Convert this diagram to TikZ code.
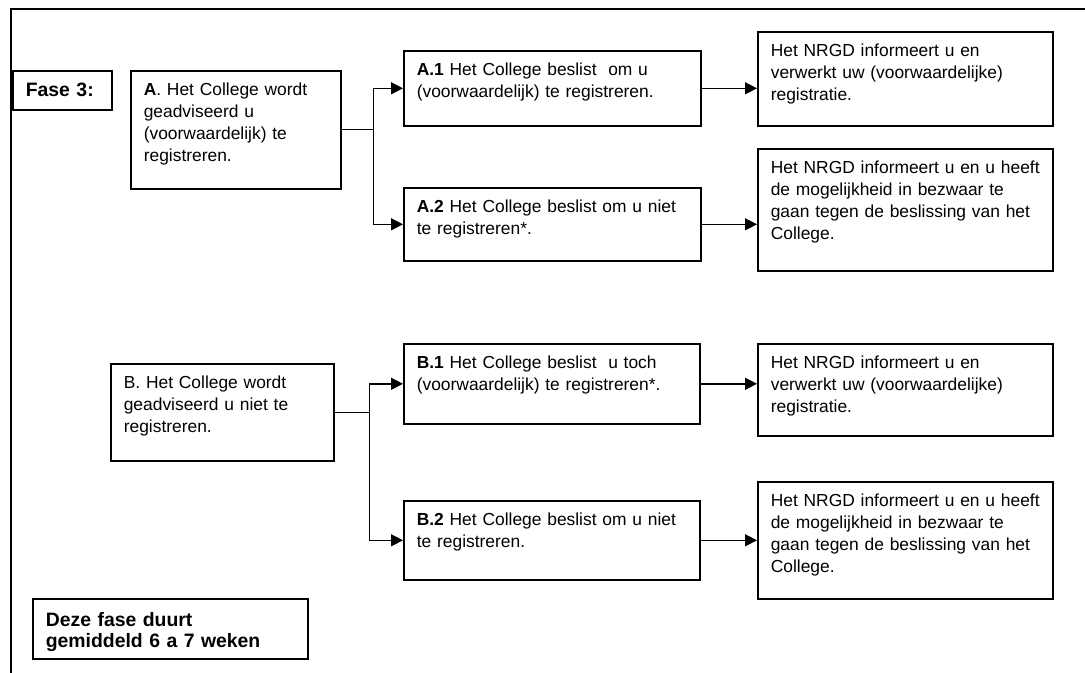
\documentclass[tikz,border=0pt]{standalone}
\usepackage{fontspec}
\setmainfont{Liberation Sans}
\usetikzlibrary{arrows.meta, positioning, calc}

\begin{document}
\begin{tikzpicture}[x=0.5pt, y=-0.5pt, >={Triangle[length=6pt,width=6pt]},
    flowbox/.style 2 args={draw, line width=0.8pt, anchor=north west, align=left,
      inner xsep=6.5pt, inner ysep=4pt, text height=8.2pt, text width=#1, text depth=#2,
      font=\fontsize{8.7}{11}\selectfont},
    notebox/.style={draw, line width=0.8pt, anchor=north west, align=left,
      inner xsep=6.5pt, font=\bfseries\fontsize{9.7}{10.5}\selectfont},
    link/.style={line width=0.7pt}]
                                \useasboundingbox (0,0) rectangle (1085,673);
                                % Page frame
                                \draw[line width=0.9pt] (11,673) -- (11,9) -- (1085,9);

                                % Define the nodes
                                \node[notebox, inner ysep=0pt, minimum height=19.5pt, text width=36.5pt] (fase) at (12,70) {Fase 3:};
                                \node[flowbox={92pt}{42.8pt}] (A) at (130,70) {\textbf{A}. Het College wordt\\ geadviseerd u\\ (voorwaardelijk) te\\ registreren.};
                                \node[flowbox={135.5pt}{21.3pt}] (A1) at (403,50) {\textbf{A.1} Het College beslist\ \ om u\\ (voorwaardelijk) te registreren.};
                                \node[flowbox={135.5pt}{20.3pt}] (A2) at (403,187) {\textbf{A.2} Het College beslist om u niet\\ te registreren*.};
                                \node[flowbox={134.5pt}{30.8pt}] (R1) at (757,31) {Het NRGD informeert u en\\ verwerkt uw (voorwaardelijke)\\ registratie.};
                                \node[flowbox={134.5pt}{44.8pt}] (R2) at (757,148) {Het NRGD informeert u en u heeft\\ de mogelijkheid in bezwaar te\\ gaan tegen de beslissing van het\\ College.};

                                \node[flowbox={98.5pt}{32.3pt}] (B) at (110,363) {B. Het College wordt\\ geadviseerd u niet te\\ registreren.};
                                \node[flowbox={135pt}{23.8pt}] (B1) at (403,343) {\textbf{B.1} Het College beslist\ \ u toch\\ (voorwaardelijk) te registreren*.};
                                \node[flowbox={135pt}{23.3pt}] (B2) at (403,500) {\textbf{B.2} Het College beslist om u niet\\ te registreren.};
                                \node[flowbox={134.5pt}{29.8pt}] (R3) at (757,343) {Het NRGD informeert u en\\ verwerkt uw (voorwaardelijke)\\ registratie.};
                                \node[flowbox={134.5pt}{42.3pt}] (R4) at (757,481) {Het NRGD informeert u en u heeft\\ de mogelijkheid in bezwaar te\\ gaan tegen de beslissing van het\\ College.};

                                \node[notebox, inner ysep=4pt, text height=10pt, text depth=12pt, text width=124.5pt] (duur) at (32,598) {Deze fase duurt\\ gemiddeld 6 a 7 weken};

                                % Split points
                                \coordinate[right=16pt of A.east] (ja);
                                \coordinate[right=17.5pt of B.east] (jb);

                                % Draw the edges
                                \draw[link] (A.east) -- (ja);
                                \draw[link,->] (ja) |- (A1.west);
                                \draw[link,->] (ja) |- (A2.west);
                                \draw[link,->] (A1.east) -- (A1.east -| R1.west);
                                \draw[link,->] (A2.east) -- (A2.east -| R2.west);

                                \draw[link] (B.east) -- (jb);
                                \draw[link,->] (jb) |- (B1.west);
                                \draw[link,->] (jb) |- (B2.west);
                                \draw[link,->] (B1.east) -- (B1.east -| R3.west);
                                \draw[link,->] (B2.east) -- (B2.east -| R4.west);
                        \end{tikzpicture}
\end{document}
